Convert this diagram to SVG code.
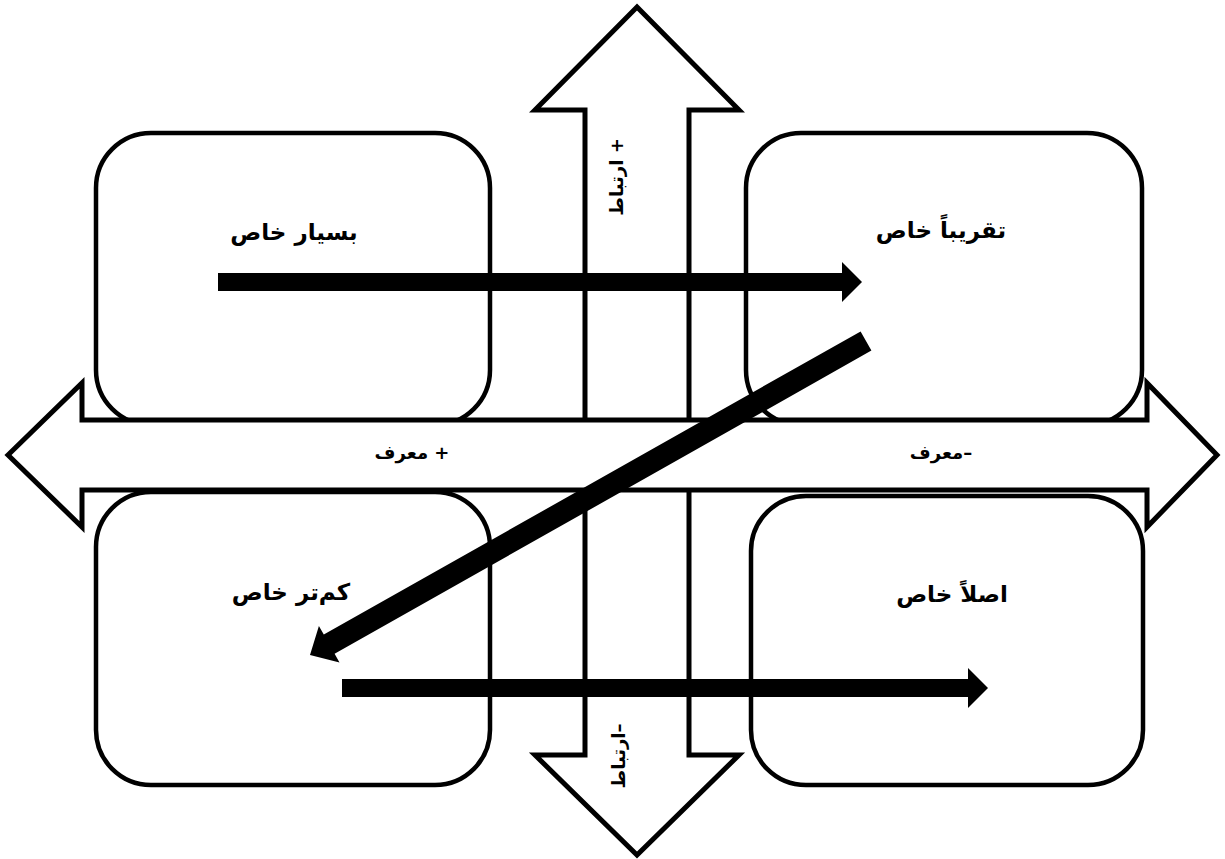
<svg xmlns="http://www.w3.org/2000/svg" width="1225" height="859" viewBox="0 0 1225 859">
<defs>
<style>
.box{fill:#fff;stroke:#000;stroke-width:4.5}
.big{fill:#fff;stroke:#000;stroke-width:5;stroke-linejoin:miter}
.blk{fill:#000;stroke:none}
.lbl{font-family:"DejaVu Sans",sans-serif;font-weight:bold;font-size:23px;fill:#000;text-anchor:middle}
.ax{font-family:"DejaVu Sans",sans-serif;font-weight:bold;font-size:18px;fill:#000;text-anchor:middle}
</style>
</defs>
<rect width="1225" height="859" fill="#fff"/>
<g id="node-very">
<rect class="box" x="96" y="133" width="394" height="292" rx="55" ry="55"/>
</g>
<g id="node-almost">
<rect class="box" x="746" y="133" width="396" height="292" rx="55" ry="55"/>
</g>
<g id="node-less">
<rect class="box" x="96" y="492" width="394" height="293" rx="55" ry="55"/>
</g>
<g id="node-none">
<rect class="box" x="751" y="496" width="392" height="289" rx="55" ry="55"/>
</g>
<g id="axis-vertical">
<polygon class="big" points="637,7 739,110 689,110 689,755 739,755 637,855 535,755 585,755 585,110 535,110"/>
<text class="ax" direction="rtl" transform="translate(623,177) rotate(-90)">+ ارتباط</text>
<text class="ax" direction="rtl" transform="translate(625,756) rotate(-90)">–ارتباط</text>
</g>
<g id="axis-horizontal">
<polygon class="big" points="8,455 82,383 82,420 1147,420 1147,383 1217,455 1147,527 1147,490 82,490 82,527"/>
<text class="ax" direction="rtl" x="412" y="459">+ معرف</text>
<text class="ax" direction="rtl" x="941" y="459">–معرف</text>
</g>
<g id="labels">
<text class="lbl" direction="rtl" x="294" y="240">بسیار خاص</text>
<text class="lbl" direction="rtl" x="941" y="238">تقریباً خاص</text>
<text class="lbl" direction="rtl" x="291" y="600">کم‌تر خاص</text>
<text class="lbl" direction="rtl" x="952" y="602">اصلاً خاص</text>
</g>
<g id="connectors">
<polygon class="blk" points="218,273 842,273 842,262 862,282 842,302 842,291 218,291"/>
<polygon class="blk" points="342,679 968,679 968,668 988,688 968,708 968,697 342,697"/>
<polygon class="blk" points="860.6,331.4 871.4,350.6 334.6,653.8 339.5,662.5 310,655 318.9,625.9 323.8,634.6"/>
</g>
</svg>
